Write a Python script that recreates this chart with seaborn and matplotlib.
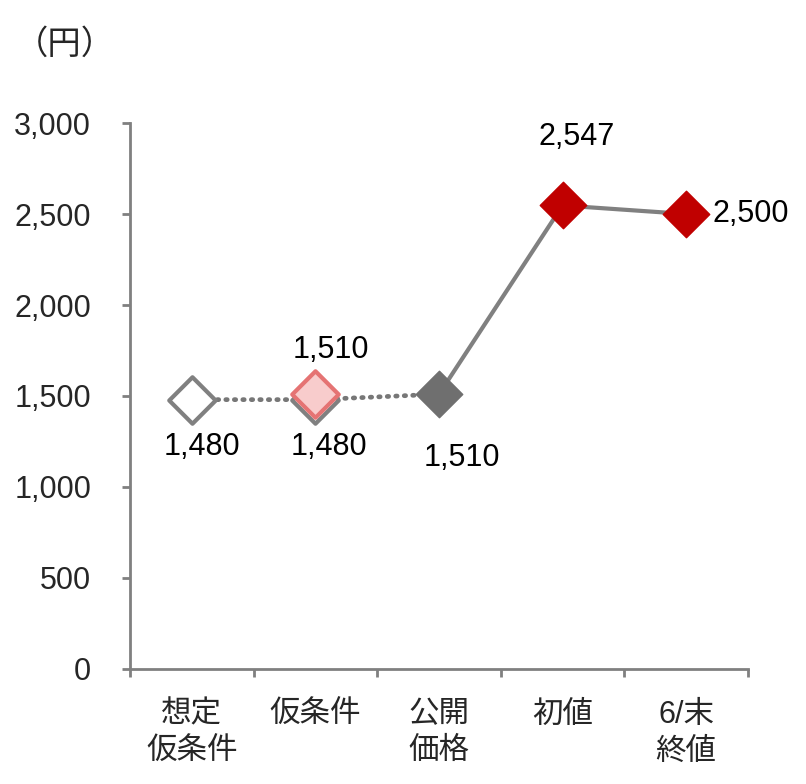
import matplotlib
matplotlib.use('Agg')
import matplotlib.pyplot as plt
import seaborn as sns
import numpy as np

# data
cats = ['想定\n仮条件', '仮条件', '公開\n価格', '初値', '6/末\n終値']
pos = list(range(len(cats)))
dotted_y = [1480, 1480, 1510]      # 想定仮条件 -> 仮条件 -> 公開価格
solid_y = [1510, 2547, 2500]       # 公開価格 -> 初値 -> 6/末終値
prov_low, prov_high = 1480, 1510   # 仮条件 range
yticks = [0, 500, 1000, 1500, 2000, 2500, 3000]

sns.set_theme(style='white')
plt.rcParams['font.family'] = ['Liberation Sans', 'Noto Sans CJK JP', 'DejaVu Sans']

fig = plt.figure(figsize=(8.06, 7.84), dpi=100)
ax = fig.add_axes([0.1613, 0.1467, 0.7667, 0.6964])

gray = '#808080'
# lines
sns.lineplot(x=pos[:3], y=dotted_y, ax=ax, color='#777777', lw=3.4, zorder=2)
dot_line = ax.lines[-1]
dot_line.set_linestyle((0, (0.3, 1.5)))
dot_line.set_dash_capstyle('round')
sns.lineplot(x=pos[2:], y=solid_y, ax=ax, color=gray, lw=3, zorder=2)

# markers
ms = 560
sns.scatterplot(x=[pos[0], pos[1]], y=[prov_low, prov_low], ax=ax, marker='D', s=ms,
                color='white', edgecolor=gray, linewidth=3, zorder=3)
sns.scatterplot(x=[pos[1]], y=[prov_high], ax=ax, marker='D', s=ms,
                color='#f8cccc', edgecolor='#e57373', linewidth=3, zorder=4)
sns.scatterplot(x=[pos[2]], y=[solid_y[0]], ax=ax, marker='D', s=ms,
                color='#6f6f6f', edgecolor='#6f6f6f', linewidth=1, zorder=4)
sns.scatterplot(x=pos[3:], y=solid_y[1:], ax=ax, marker='D', s=ms,
                color='#c00000', edgecolor='#c00000', linewidth=1, zorder=4)

fs = 22
def lab(x, y, dx, dy, ha='center'):
    ax.annotate(f'{y:,}', (x, y), xytext=(dx, dy), textcoords='offset pixels',
                ha=ha, va='center', fontsize=fs, color='black')

lab(pos[0], prov_low, 10, -47)
lab(pos[1], prov_low, 14, -47)
lab(pos[1], prov_high, 15, 44)
lab(pos[2], solid_y[0], 23, -64)
lab(pos[3], solid_y[1], 14, 68)
lab(pos[4], solid_y[2], 26, 0, ha='left')

ax.set_xlim(-0.5, len(cats) - 0.5)
ax.set_ylim(0, 3000)
ax.set_yticks(yticks)
ax.set_yticklabels([f'{v:,}' for v in yticks])
ax.set_xticks(np.arange(-0.5, len(cats), 1.0))
ax.set_xticklabels([])
ax.set_xticks(pos, minor=True)
ax.set_xticklabels(cats, minor=True, linespacing=1.3, va='top')
ax.tick_params(axis='x', which='major', direction='out', length=6, width=2, color=gray, bottom=True)
ax.tick_params(axis='x', which='minor', length=0, pad=22, labelsize=fs, bottom=True)
ax.tick_params(axis='y', direction='out', length=6, width=2, color=gray, pad=22, labelsize=fs, left=True)

for s in ['top', 'right']:
    ax.spines[s].set_visible(False)
for s in ['left', 'bottom']:
    ax.spines[s].set_color(gray)
    ax.spines[s].set_linewidth(2)
ax.set_xlabel('')
ax.set_ylabel('')

fig.text(0.081, 0.943, '（円）', fontsize=24, ha='center', va='center',
         family=['Noto Sans CJK JP', 'DejaVu Sans'])

fig.savefig('out.png', dpi=100)
